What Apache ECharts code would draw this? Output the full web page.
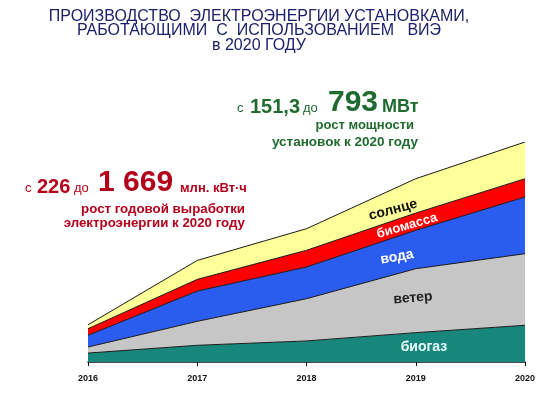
<!DOCTYPE html>
<html>
<head>
<meta charset="utf-8">
<script src="https://cdn.jsdelivr.net/npm/echarts@6/dist/echarts.min.js"></script>
<style>html,body{margin:0;padding:0;background:#fff}#c{width:550px;height:410px}</style>
</head>
<body>
<div id="c"></div>
<script>
// Data (approximate; stacked, млн. кВт·ч scale)
const years = ['2016', '2017', '2018', '2019', '2020'];
const biogas  = [68, 127, 160, 223, 279];
const wind    = [46, 182, 321, 486, 544];
const water   = [89, 230, 241, 292, 431];
const biomass = [50, 89, 127, 131, 139];
const solar   = [30, 144, 164, 261, 279];
const seriesNames = ['биогаз', 'ветер', 'вода', 'биомасса', 'солнце'];
const seriesColors = ['#17877b', '#c6c6c6', '#2a5cf0', '#ff0000', '#ffff99'];
const seriesValues = [biogas, wind, water, biomass, solar];

const chart = echarts.init(document.getElementById('c'));
const total = years.map((_, i) => seriesValues.reduce((s, a) => s + a[i], 0));
const yMax = Math.max(...total);

const series = seriesNames.map((n, k) => ({
  name: n,
  type: 'line',
  stack: 'total',
  data: seriesValues[k],
  symbol: 'none',
  smooth: false,
  lineStyle: { color: '#1a1a1a', width: 1 },
  areaStyle: { color: seriesColors[k], opacity: 1 },
  z: 2
}));

const F = 'Liberation Sans, Arial, sans-serif';
const red = '#b3001b', green = '#1f6b2f', navy = '#1c216a';
function t(x, y, text, size, color, weight, align, vAlign, rot) {
  return { type: 'text', x: x, y: y, rotation: rot || 0, z: 10,
    style: { text: text, fontSize: size, fontFamily: F, fontWeight: weight || 'normal', fill: color,
      align: align || 'left', verticalAlign: vAlign || 'bottom' } };
}

chart.setOption({
  animation: false,
  grid: { left: 88, right: 25, top: 142, bottom: 48 },
  xAxis: {
    type: 'category', data: years, boundaryGap: false,
    axisLine: { lineStyle: { color: '#111', width: 1.5 } },
    axisTick: { show: true, length: 4, lineStyle: { color: '#111' } },
    axisLabel: { color: '#111', fontWeight: 'bold', fontSize: 9, fontFamily: F, margin: 12 }
  },
  yAxis: { type: 'value', show: false, min: 0, max: yMax, splitLine: { show: false } },
  series: series,
  graphic: [
    // Title
    { type: 'text', x: 259, y: 9, z: 10, style: { text: 'ПРОИЗВОДСТВО  ЭЛЕКТРОЭНЕРГИИ УСТАНОВКАМИ,\nРАБОТАЮЩИМИ  С  ИСПОЛЬЗОВАНИЕМ   ВИЭ\nв 2020 ГОДУ',
      fontSize: 16, lineHeight: 14.5, fontFamily: F, fill: navy, align: 'center', verticalAlign: 'top' } },
    // Red annotation
    t(25, 195, 'с', 13, red, 'normal'),
    t(37, 197, '226', 20, red, 'bold'),
    t(74, 195, 'до', 13, red, 'normal'),
    t(98, 198, '1 669', 30, red, 'bold'),
    t(180, 195, 'млн. кВт·ч', 13, red, 'bold'),
    t(245, 209, 'рост годовой выработки', 13.3, red, 'bold', 'right', 'middle'),
    t(245, 223, 'электроэнергии к 2020 году', 13.3, red, 'bold', 'right', 'middle'),
    // Green annotation
    t(237, 115, 'с', 13, green, 'normal'),
    t(250, 117, '151,3', 20, green, 'bold'),
    t(303, 115, 'до', 13, green, 'normal'),
    t(328, 118, '793', 30, green, 'bold'),
    t(382, 116, 'МВт', 18, green, 'bold'),
    t(414, 125, 'рост мощности', 13, green, 'bold', 'right', 'middle'),
    t(418, 142, 'установок к 2020 году', 13.5, green, 'bold', 'right', 'middle'),
    // Area labels
    t(393, 210, 'солнце', 14, '#111', 'bold', 'center', 'middle', 0.26),
    t(407, 226, 'биомасса', 13, '#fff', 'bold', 'center', 'middle', 0.28),
    t(397, 257, 'вода', 14, '#fff', 'bold', 'center', 'middle', 0.18),
    t(413, 298, 'ветер', 14, '#222', 'bold', 'center', 'middle', 0.08),
    t(424, 347, 'биогаз', 14, '#e8ffff', 'bold', 'center', 'middle', 0)
  ]
});
</script>
</body>
</html>
